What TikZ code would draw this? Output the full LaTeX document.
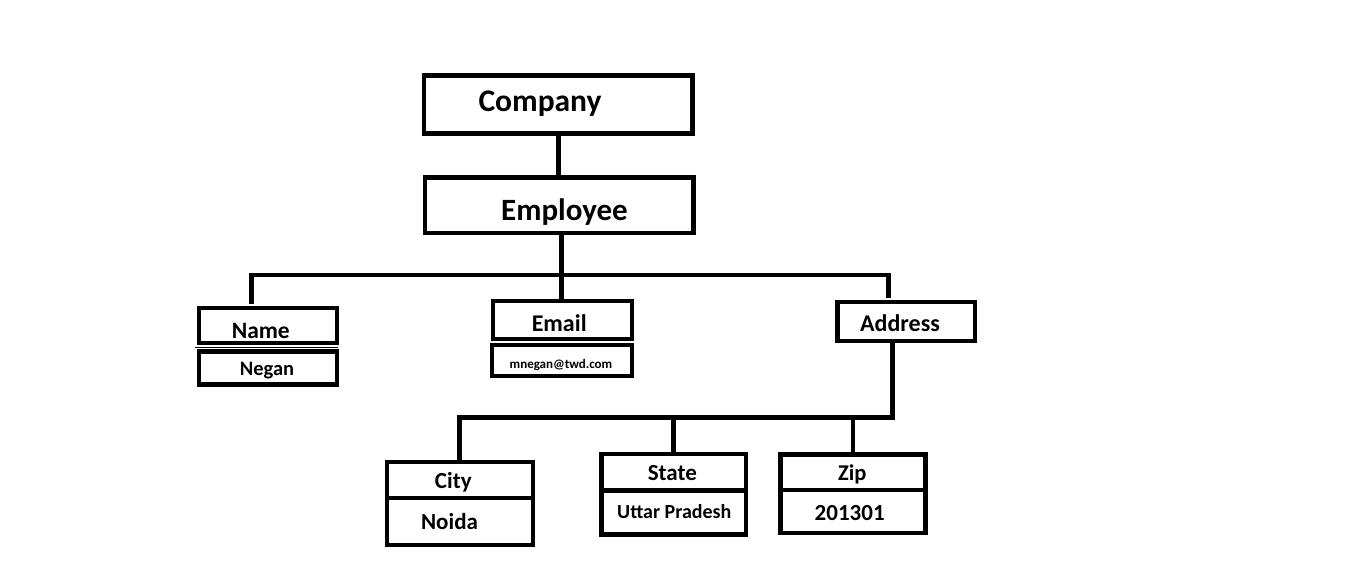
\documentclass[tikz,border=0pt]{standalone}
\usepackage{fontspec}
\setmainfont{Carlito}
\usetikzlibrary{positioning}
\newcommand{\bsz}[1]{\fontsize{#1}{#1}\selectfont\bfseries}

\begin{document}
\begin{tikzpicture}[x=1pt, y=-1pt,
    box/.style={draw, line width=4.3pt, inner sep=0pt, outer sep=0pt},
    bigbox/.style={box, line width=4.8pt, minimum width=268.5pt},
    link/.style={line width=4.7pt},
    lbl/.style={inner sep=0pt, anchor=base}]
  \useasboundingbox (0,0) rectangle (1360,581);

  % company / employee
  \node[bigbox, minimum height=57.4pt] (company) at (558.25,104.5) {};
  \node[bigbox, minimum height=55.5pt] (employee) at (559.25,205.25) {};

  % field boxes
  \foreach \n/\x/\y/\w/\h in {name/267.85/325.5/138.3/35, negan/268/368/138/33,
      email/562.5/320/139/37.4, mail/562/360.5/140/31.6,
      address/906.25/321.65/137.5/38.7,
      city/460/480/146/36, noida/460/521.5/146/47,
      state/673.75/472.25/144.5/36.5, up/673.75/512.5/144.5/44,
      zip/853/472.4/145/35.8, pin/853/511.65/145/42.7}
    \node[box, minimum width=\w pt, minimum height=\h pt] (\n) at (\x,\y) {};

  % texts
  \foreach \n/\x/\y/\s/\t in {company/540/111.7/31.5/Company, employee/564.5/220/31/Employee,
      name/260.8/338.3/23.5/Name, negan/267/375/20.5/Negan,
      email/559.2/331.7/24/Email, mail/561/368.3/13/mnegan@twd.com,
      address/900/331.7/24/Address,
      city/453.3/488.3/23/City, noida/449.5/529.3/23/Noida,
      state/672.3/480.7/23/State, up/674.3/518.3/20/Uttar Pradesh,
      zip/852.2/480/22.5/Zip, pin/849.7/520.7/23/201301}
    \node[lbl, font=\bsz{\s}] (\n-t) at (\x,\y) {\t};

  % thin rule under Name
  \draw[line width=1.2pt] ([xshift=-3.5pt, yshift=-4.5pt]name.south west) -- ([xshift=1pt, yshift=-4.5pt]name.south east);

  % connectors
  \coordinate (busL) at (251.7,275);
  \coordinate (busM) at (561.7,275);
  \coordinate (busR) at (888.3,275);
  \coordinate (lowL) at (459.5,417.5);
  \coordinate (lowR) at (892.3,417.5);

  \draw[link] (company.south) -- (company.south |- employee.north);
  \draw[link] (employee.south -| busM) -- (busM) -- (email.north -| busM);
  \draw[link, shorten <=4.5pt, shorten >=4.5pt]
    (name.north -| busL) -- (busL) -- (busR) -- (address.north -| busR);
  \draw[link] (address.south -| lowR) -- (lowR) -- (lowL) -- (city.north -| lowL);
  \draw[link] (state.north) -- (state.north |- lowL);
  \draw[link] (zip.north) -- (zip.north |- lowL);
\end{tikzpicture}
\end{document}
